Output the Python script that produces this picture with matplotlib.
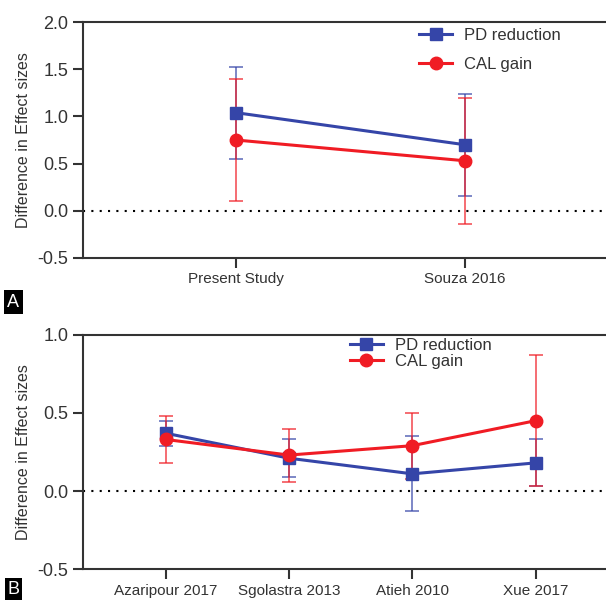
import numpy as np
import matplotlib.pyplot as plt

# Panel A: present study vs Souza 2016
studies_a = ['Present Study', 'Souza 2016']
pd_a = [1.04, 0.70]
pd_a_lo = [0.55, 0.16]
pd_a_hi = [1.53, 1.24]
cal_a = [0.75, 0.53]
cal_a_lo = [0.10, -0.14]
cal_a_hi = [1.40, 1.20]

# Panel B: other published studies
studies_b = ['Azaripour 2017', 'Sgolastra 2013', 'Atieh 2010', 'Xue 2017']
pd_b = [0.37, 0.21, 0.11, 0.18]
pd_b_lo = [0.29, 0.09, -0.13, 0.03]
pd_b_hi = [0.45, 0.33, 0.35, 0.33]
cal_b = [0.33, 0.23, 0.29, 0.45]
cal_b_lo = [0.18, 0.06, 0.08, 0.03]
cal_b_hi = [0.48, 0.40, 0.50, 0.87]

blue = '#3545a8'
red = '#f01c24'

plt.rcParams['font.family'] = 'Liberation Sans'

fig = plt.figure(figsize=(6.06, 6.01), dpi=100)


def panel(ax, names, pd, pd_lo, pd_hi, cal, cal_lo, cal_hi, ylim, yticks):
    x = np.arange(len(names))
    pd = np.array(pd); cal = np.array(cal)
    ax.errorbar(x, pd, yerr=[pd - np.array(pd_lo), np.array(pd_hi) - pd],
                fmt='none', ecolor=blue, elinewidth=1.2, capsize=5, capthick=1.2, alpha=0.75, zorder=2)
    ax.errorbar(x, cal, yerr=[cal - np.array(cal_lo), np.array(cal_hi) - cal],
                fmt='none', ecolor=red, elinewidth=1.2, capsize=5, capthick=1.2, alpha=0.75, zorder=2)
    ax.plot(x, pd, color=blue, marker='s', markersize=9, linewidth=2.2, label='PD reduction', zorder=3)
    ax.plot(x, cal, color=red, marker='o', markersize=9, linewidth=2.2, label='CAL gain', zorder=3)
    ax.axhline(0, color='black', linestyle=(0, (1, 3)), linewidth=1.5, zorder=1)
    ax.set_xlim(-0.67, len(names) - 1 + 0.67)
    ax.set_ylim(*ylim)
    ax.set_yticks(yticks)
    ax.set_yticklabels([f'{v:.1f}' for v in yticks], fontsize=13, color='#333333')
    ax.set_xticks(x)
    ax.set_xticklabels(names, fontsize=11, color='#333333')
    ax.set_ylabel('Difference in Effect sizes', fontsize=11.5, labelpad=5, color='#333333')
    for s in ['left', 'top', 'bottom']:
        ax.spines[s].set_linewidth(1.5)
        ax.spines[s].set_color('#333333')
    ax.spines['right'].set_visible(False)
    ax.tick_params(axis='both', width=1.5, length=7, direction='out', color='#333333')


ax_a = fig.add_axes([0.137, 0.571, 0.883, 0.392])
panel(ax_a, studies_a, pd_a, pd_a_lo, pd_a_hi, cal_a, cal_a_lo, cal_a_hi,
      (-0.5, 2.0), [-0.5, 0.0, 0.5, 1.0, 1.5, 2.0])
leg = ax_a.legend(loc='upper left', bbox_to_anchor=(0.6, 1.04), frameon=False, fontsize=12,
                  labelspacing=0.85, handlelength=2.0, handletextpad=0.7)
for t in leg.get_texts():
    t.set_color('#333333')

ax_b = fig.add_axes([0.137, 0.053, 0.883, 0.390])
panel(ax_b, studies_b, pd_b, pd_b_lo, pd_b_hi, cal_b, cal_b_lo, cal_b_hi,
      (-0.5, 1.0), [-0.5, 0.0, 0.5, 1.0])
leg = ax_b.legend(loc='upper left', bbox_to_anchor=(0.47, 1.05), frameon=False, fontsize=12,
                  labelspacing=0.05, handlelength=2.0, handletextpad=0.7)
for t in leg.get_texts():
    t.set_color('#333333')

# panel letters
fig.text(0.012, 0.49, 'A', fontsize=13, color='white',
         bbox=dict(facecolor='black', edgecolor='none', pad=2.5))
fig.text(0.012, 0.012, 'B', fontsize=13, color='white',
         bbox=dict(facecolor='black', edgecolor='none', pad=2.0))

fig.savefig('out.png', dpi=100)
